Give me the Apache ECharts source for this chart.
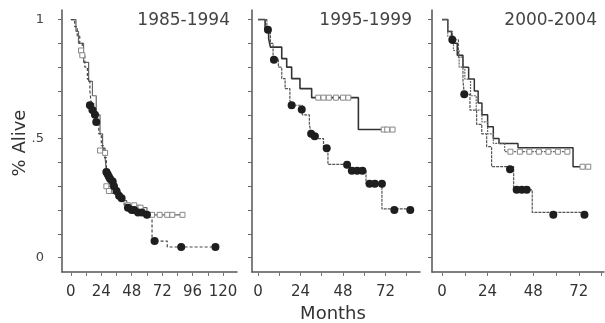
<!DOCTYPE html>
<html>
<head>
  <meta charset="utf-8">
  <title></title>
  <script src="https://cdn.jsdelivr.net/npm/echarts@6/dist/echarts.min.js"></script>
  <style>
    html, body { margin: 0; padding: 0; background: #fff; }
    #main { width: 605px; height: 323px; }
  </style>
</head>
<body>
<div id="main"></div>
<script>
  // panel titles and axis ticks
  var panelTitles = ['1985-1994', '1995-1999', '2000-2004'];
  var yTicks = [0, 0.1, 0.2, 0.3, 0.4, 0.5, 0.6, 0.7, 0.8, 0.9, 1];
  var yLabels = [0, 0.5, 1];
  var xTicks1 = [0, 12, 24, 36, 48, 60, 72, 84, 96, 108, 120];
  var xLabels1 = [0, 24, 48, 72, 96, 120];
  var xTicks2 = [0, 12, 24, 36, 48, 60, 72, 84];
  var xLabels2 = [0, 24, 48, 72];

  // 1985-1994 : [month, survival]
  var p1CircleCurve = [[0, 1], [3, 0.97], [5, 0.93], [7, 0.9], [9, 0.85], [11, 0.8], [13, 0.75], [15, 0.7],
    [16, 0.65], [18, 0.61], [20, 0.57], [22, 0.52], [24, 0.47], [26, 0.42], [28, 0.37], [30, 0.34],
    [33, 0.31], [36, 0.28], [39, 0.25], [42, 0.22], [46, 0.2], [52, 0.19], [60, 0.18], [64, 0.07],
    [76, 0.045], [114, 0.045]];
  var p1CircleMarks = [[15, 0.64], [17, 0.62], [19, 0.6], [20, 0.57], [28, 0.36], [29, 0.35], [30, 0.34],
    [31, 0.33], [33, 0.32], [34, 0.3], [36, 0.28], [38, 0.26], [40, 0.25], [45, 0.21], [48, 0.2],
    [50, 0.2], [53, 0.19], [56, 0.19], [60, 0.18], [66, 0.07], [87, 0.045], [114, 0.045]];
  var p1SquareCurve = [[0, 1], [4, 0.95], [6, 0.9], [10, 0.82], [14, 0.74], [17, 0.68], [20, 0.6],
    [23, 0.52], [25, 0.46], [27, 0.42], [28, 0.36], [30, 0.3], [32, 0.27], [36, 0.25], [40, 0.24],
    [44, 0.22], [55, 0.21], [60, 0.18], [88, 0.18]];
  var p1SquareMarks = [[8, 0.87], [9, 0.85], [23, 0.45], [27, 0.44], [28, 0.3], [30, 0.28], [45, 0.22],
    [50, 0.22], [55, 0.21], [64, 0.18], [70, 0.18], [76, 0.18], [80, 0.18], [88, 0.18]];

  // 1995-1999
  var p2SolidCurve = [[0, 1], [4, 0.96], [6, 0.92], [7, 0.884], [13.4, 0.836], [16.2, 0.8], [19, 0.752],
    [23.7, 0.71], [30.3, 0.672], [56.7, 0.538], [76.5, 0.538]];
  var p2SquareMarks = [[34, 0.672], [37, 0.672], [40, 0.672], [44, 0.672], [48, 0.672], [51, 0.672],
    [71, 0.538], [73, 0.538], [76, 0.538]];
  var p2CircleCurve = [[0, 1], [5, 0.957], [7, 0.9], [8.5, 0.837], [11.5, 0.8], [13.4, 0.752],
    [15.3, 0.71], [18, 0.66], [19, 0.64], [25, 0.6], [29, 0.56], [30, 0.52], [34, 0.5], [37, 0.46],
    [39.5, 0.392], [52, 0.365], [61, 0.31], [70, 0.205], [86, 0.205]];
  var p2CircleMarks = [[5.6, 0.957], [9, 0.831], [19, 0.64], [24.7, 0.622], [30, 0.52], [32, 0.51],
    [38.8, 0.46], [50.3, 0.39], [53, 0.365], [56, 0.365], [59, 0.365], [63, 0.31], [66, 0.31],
    [70, 0.31], [77, 0.2], [86, 0.2]];

  // 2000-2004
  var p3SolidCurve = [[0, 1], [3, 0.95], [5, 0.9], [8, 0.85], [11, 0.8], [14, 0.75], [17, 0.7],
    [19, 0.65], [21, 0.6], [24, 0.55], [27, 0.5], [30, 0.48], [40, 0.462], [69, 0.382], [78, 0.382]];
  var p3SquareCurve = [[0, 1], [3, 0.93], [6, 0.87], [9, 0.8], [12, 0.75], [15, 0.68], [18, 0.62],
    [21, 0.57], [24, 0.52], [27, 0.48], [33, 0.445], [67, 0.445]];
  var p3SquareMarks = [[36, 0.445], [41, 0.445], [46, 0.445], [51, 0.445], [56, 0.445], [61, 0.445],
    [66, 0.445], [74, 0.382], [77, 0.382]];
  var p3CircleCurve = [[0, 1], [3, 0.95], [5.4, 0.915], [8.6, 0.842], [11, 0.745], [11.7, 0.686],
    [14.7, 0.62], [18.2, 0.56], [20.9, 0.52], [23.5, 0.466], [26.1, 0.382], [37.7, 0.285],
    [47.5, 0.19], [75, 0.19]];
  var p3CircleMarks = [[5.4, 0.915], [11.7, 0.686], [35.8, 0.371], [39.3, 0.285], [42, 0.285],
    [44.6, 0.285], [58.6, 0.18], [75, 0.18]];

  var axisColor = '#555';
  var font = 'DejaVu Sans';

  function makeX(idx, min, max, ticks, labels) {
    return {
      type: 'value', gridIndex: idx, min: min, max: max,
      axisLine: {onZero: false, lineStyle: {color: axisColor, width: 1.5}},
      axisTick: {customValues: ticks, length: 4, lineStyle: {color: '#777'}},
      axisLabel: {customValues: labels, margin: 13, fontSize: 15, color: '#333', fontFamily: font},
      splitLine: {show: false}
    };
  }

  function makeY(idx, showLabels) {
    return {
      type: 'value', gridIndex: idx, min: -0.06, max: 1.04,
      axisLine: {show: true, onZero: false, lineStyle: {color: axisColor, width: 1.5}},
      axisTick: {customValues: yTicks, length: 4, lineStyle: {color: '#666'}},
      axisLabel: {
        show: showLabels, customValues: yLabels, margin: 18, fontSize: 13, color: '#444', fontFamily: font,
        formatter: function (v) { return v === 0.5 ? '.5' : String(v); }
      },
      splitLine: {show: false}
    };
  }

  function curve(idx, data, color, width, type) {
    return {
      type: 'line', xAxisIndex: idx, yAxisIndex: idx, data: data, step: 'end',
      showSymbol: false, silent: true, z: 2,
      lineStyle: {color: color, width: width, type: type}
    };
  }

  function marks(idx, data, kind) {
    var s = {type: 'scatter', xAxisIndex: idx, yAxisIndex: idx, data: data, silent: true, z: 4};
    if (kind === 'circle') {
      s.symbol = 'circle'; s.symbolSize = 8;
      s.itemStyle = {color: '#1e1e1e', opacity: 1};
    } else {
      s.symbol = 'rect'; s.symbolSize = 5;
      s.itemStyle = {color: '#fff', borderColor: '#888', borderWidth: 1, opacity: 1};
    }
    return s;
  }

  var chart = echarts.init(document.getElementById('main'));
  chart.setOption({
    animation: false,
    backgroundColor: '#fff',
    grid: [
      {left: 62, top: 10, width: 175, height: 262},
      {left: 252, top: 10, width: 168, height: 262},
      {left: 432, top: 10, width: 172, height: 262}
    ],
    xAxis: [
      makeX(0, -7, 131, xTicks1, xLabels1),
      makeX(1, -3.4, 91.5, xTicks2, xLabels2),
      makeX(2, -5.3, 85.3, xTicks2, xLabels2)
    ],
    yAxis: [makeY(0, true), makeY(1, false), makeY(2, false)],
    graphic: [
      {type: 'text', right: 605 - 230, top: 12, style: {text: panelTitles[0], font: '17px DejaVu Sans', fill: '#444'}},
      {type: 'text', right: 605 - 412, top: 12, style: {text: panelTitles[1], font: '17px DejaVu Sans', fill: '#444'}},
      {type: 'text', right: 605 - 597, top: 12, style: {text: panelTitles[2], font: '17px DejaVu Sans', fill: '#444'}},
      {type: 'text', x: 20, y: 143, rotation: Math.PI / 2,
        style: {text: '% Alive', font: '18px DejaVu Sans', fill: '#333', align: 'center', verticalAlign: 'middle'}},
      {type: 'text', x: 333, y: 314,
        style: {text: 'Months', font: '18px DejaVu Sans', fill: '#333', align: 'center', verticalAlign: 'middle'}}
    ],
    series: [
      curve(0, p1SquareCurve, '#666', 1.2, 'solid'),
      curve(0, p1CircleCurve, '#444', 1.2, [3, 2]),
      marks(0, p1SquareMarks, 'square'),
      marks(0, p1CircleMarks, 'circle'),

      curve(1, p2SolidCurve, '#333', 1.6, 'solid'),
      curve(1, p2CircleCurve, '#555', 1.2, [3, 1]),
      marks(1, p2SquareMarks, 'square'),
      marks(1, p2CircleMarks, 'circle'),

      curve(2, p3SolidCurve, '#333', 1.5, 'solid'),
      curve(2, p3SquareCurve, '#666', 1.2, [2, 1]),
      curve(2, p3CircleCurve, '#555', 1.2, [3, 1]),
      marks(2, p3SquareMarks, 'square'),
      marks(2, p3CircleMarks, 'circle')
    ]
  });
</script>
</body>
</html>
